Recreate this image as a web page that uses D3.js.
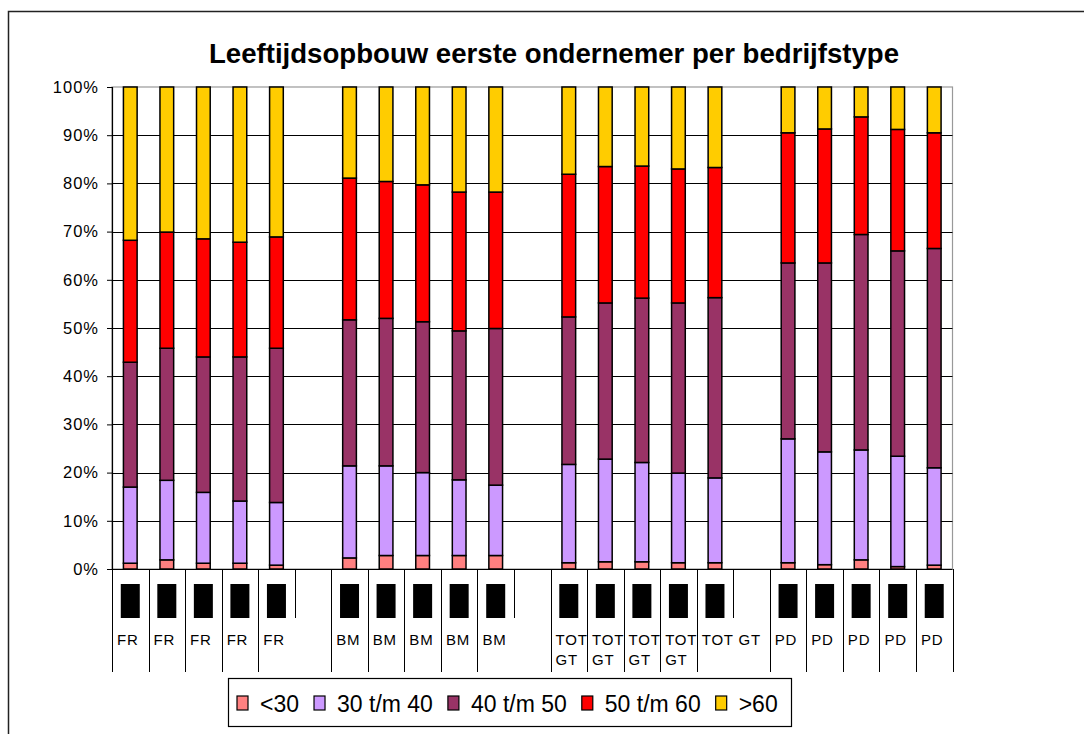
<!DOCTYPE html>
<html>
<head>
<meta charset="utf-8">
<script src="https://cdn.jsdelivr.net/npm/d3@7"></script>
<style>
    body { margin: 0; background: #fff; }
    text { font-family: "Liberation Sans", Arial, sans-serif; }
</style>
</head>
<body>
<svg id="chart" width="1084" height="734"></svg>
<script>
// categories (outer label per bar, blanks are spacer columns)
var groups = ["FR", "FR", "FR", "FR", "FR", "",
    "BM", "BM", "BM", "BM", "BM", "",
    "TOT GT", "TOT GT", "TOT GT", "TOT GT", "TOT GT", "",
    "PD", "PD", "PD", "PD", "PD"];

var seriesNames = ["<30", "30 t/m 40", "40 t/m 50", "50 t/m 60", ">60"];
var colors = ["#FF8080", "#CC99FF", "#993366", "#FF0000", "#FFCC00"];

// percentages per series
var under30 = [1.2, 1.9, 1.2, 1.2, 0.8, 0,
    2.3, 2.8, 2.8, 2.8, 2.8, 0,
    1.3, 1.5, 1.5, 1.3, 1.3, 0,
    1.3, 0.9, 1.9, 0.5, 0.8];
var age30to40 = [15.8, 16.5, 14.7, 12.9, 13.0, 0,
    19.1, 18.6, 17.2, 15.7, 14.6, 0,
    20.4, 21.3, 20.6, 18.6, 17.6, 0,
    25.7, 23.4, 22.8, 22.9, 20.2];
var age40to50 = [25.9, 27.4, 28.1, 29.9, 32.0, 0,
    30.3, 30.6, 31.3, 30.9, 32.5, 0,
    30.6, 32.4, 34.1, 35.3, 37.4, 0,
    36.5, 39.2, 44.7, 42.6, 45.5];
var age50to60 = [25.3, 24.1, 24.5, 23.8, 23.1, 0,
    29.4, 28.4, 28.4, 28.8, 28.3, 0,
    29.6, 28.3, 27.4, 27.8, 27.0, 0,
    27.0, 27.8, 24.4, 25.2, 24.0];
var over60 = [31.8, 30.1, 31.5, 32.2, 31.1, 0,
    18.9, 19.6, 20.3, 21.8, 21.8, 0,
    18.1, 16.5, 16.4, 17.0, 16.7, 0,
    9.5, 8.7, 6.2, 8.8, 9.5];

var yTicks = [0, 10, 20, 30, 40, 50, 60, 70, 80, 90, 100];

var svg = d3.select("#chart");

// outer frame (runs off the right and bottom edge)
svg.append("rect")
    .attr("x", 8.5).attr("y", 11.5)
    .attr("width", 1090).attr("height", 740)
    .attr("fill", "#fff")
    .attr("stroke", "#222")
    .attr("stroke-width", 1.5);

svg.append("text")
    .attr("x", 554).attr("y", 63)
    .attr("text-anchor", "middle")
    .attr("font-size", 27.6)
    .attr("font-weight", "bold")
    .text("Leeftijdsopbouw eerste ondernemer per bedrijfstype");

var plotL = 112, plotR = 952.5, plotT = 87, plotB = 569;

var x = d3.scaleBand()
    .domain(d3.range(groups.length))
    .range([plotL, plotR])
    .padding(0);

var y = d3.scaleLinear()
    .domain([0, 100])
    .range([plotB, plotT]);

// plot area border
svg.append("rect")
    .attr("x", plotL).attr("y", plotT)
    .attr("width", plotR - plotL).attr("height", plotB - plotT)
    .attr("fill", "none")
    .attr("stroke", "#999")
    .attr("stroke-width", 1.2);

// gridlines
svg.append("g")
    .selectAll("line")
    .data(yTicks.filter(function(d) { return d > 0 && d < 100; }))
    .enter()
    .append("line")
    .attr("x1", plotL).attr("x2", plotR)
    .attr("y1", function(d) { return Math.round(y(d)) + 0.5; })
    .attr("y2", function(d) { return Math.round(y(d)) + 0.5; })
    .attr("stroke", "#000")
    .attr("stroke-width", 1);

// y axis
var yAxis = d3.axisLeft(y)
    .tickValues(yTicks)
    .tickSize(5)
    .tickPadding(8)
    .tickFormat(function(d) { return d + "%"; });

var yg = svg.append("g")
    .attr("transform", "translate(" + plotL + ",0)")
    .call(yAxis);
yg.select(".domain").attr("stroke", "#000").attr("stroke-width", 1.2);
yg.selectAll(".tick line").attr("stroke", "#000");
yg.selectAll(".tick text")
    .attr("font-family", "Liberation Sans, Arial, sans-serif")
    .attr("font-size", 16.5)
    .attr("letter-spacing", 1)
    .attr("fill", "#000");

// stacked bars
var rows = groups.map(function(g, i) {
    return {
        i: i,
        "<30": under30[i],
        "30 t/m 40": age30to40[i],
        "40 t/m 50": age40to50[i],
        "50 t/m 60": age50to60[i],
        ">60": over60[i]
    };
});
var filled = rows.filter(function(d) { return groups[d.i] !== ""; });

var stack = d3.stack().keys(seriesNames);
var layers = stack(filled);

var barW = 13.7;

svg.append("g")
    .selectAll("g")
    .data(layers)
    .enter()
    .append("g")
    .attr("fill", function(d, i) { return colors[i]; })
    .selectAll("rect")
    .data(function(d) { return d; })
    .enter()
    .append("rect")
    .attr("x", function(d) { return x(d.data.i) + x.bandwidth() / 2 - barW / 2; })
    .attr("y", function(d) { return y(d[1]); })
    .attr("width", barW)
    .attr("height", function(d) { return y(d[0]) - y(d[1]); })
    .attr("stroke", "#000")
    .attr("stroke-width", 1.5);

// x axis line
svg.append("line")
    .attr("x1", plotL).attr("x2", plotR)
    .attr("y1", plotB + 0.5).attr("y2", plotB + 0.5)
    .attr("stroke", "#000")
    .attr("stroke-width", 1.2);

// category separators: full length unless next column is a spacer
svg.append("g")
    .selectAll("line")
    .data(d3.range(groups.length + 1))
    .enter()
    .append("line")
    .attr("x1", function(d) { return Math.round(plotL + d * x.bandwidth()) + 0.5; })
    .attr("x2", function(d) { return Math.round(plotL + d * x.bandwidth()) + 0.5; })
    .attr("y1", plotB)
    .attr("y2", function(d) {
        if (d < groups.length && groups[d] === "") return 618;
        return 672;
    })
    .attr("stroke", "#000")
    .attr("stroke-width", 1);

// inner labels show up as solid black boxes
svg.append("g")
    .selectAll("rect")
    .data(filled)
    .enter()
    .append("rect")
    .attr("x", function(d) { return x(d.i) + x.bandwidth() / 2 - 9.5; })
    .attr("y", 584)
    .attr("width", 19)
    .attr("height", 34)
    .attr("fill", "#000");

// outer labels, wrapped when a spacer does not follow
var lab = svg.append("g")
    .selectAll("text")
    .data(filled)
    .enter()
    .append("text")
    .attr("x", function(d) { return x(d.i) + 5; })
    .attr("y", 645)
    .attr("font-size", 15)
    .attr("letter-spacing", 0.8)
    .attr("fill", "#000");

lab.each(function(d) {
    var words = groups[d.i].split(" ");
    var spill = groups[d.i + 1] === "";
    var t = d3.select(this);
    if (words.length > 1 && !spill) {
        words.forEach(function(w, k) {
            t.append("tspan")
                .attr("x", x(d.i) + 5)
                .attr("dy", k === 0 ? 0 : 20)
                .text(w);
        });
    } else {
        t.text(groups[d.i]);
    }
});

// legend
var legend = svg.append("g");
legend.append("rect")
    .attr("x", 228.5).attr("y", 678.5)
    .attr("width", 563).attr("height", 48)
    .attr("fill", "#fff")
    .attr("stroke", "#000")
    .attr("stroke-width", 1.2);

var lx = 237;
seriesNames.forEach(function(name, i) {
    legend.append("rect")
        .attr("x", lx).attr("y", 696)
        .attr("width", 11).attr("height", 14)
        .attr("fill", colors[i])
        .attr("stroke", "#000")
        .attr("stroke-width", 1.2);
    var t = legend.append("text")
        .attr("x", lx + 23).attr("y", 712)
        .attr("font-size", 23)
        .attr("fill", "#000")
        .text(name);
    lx = lx + 23 + t.node().getComputedTextLength() + 15;
});
</script>
</body>
</html>
